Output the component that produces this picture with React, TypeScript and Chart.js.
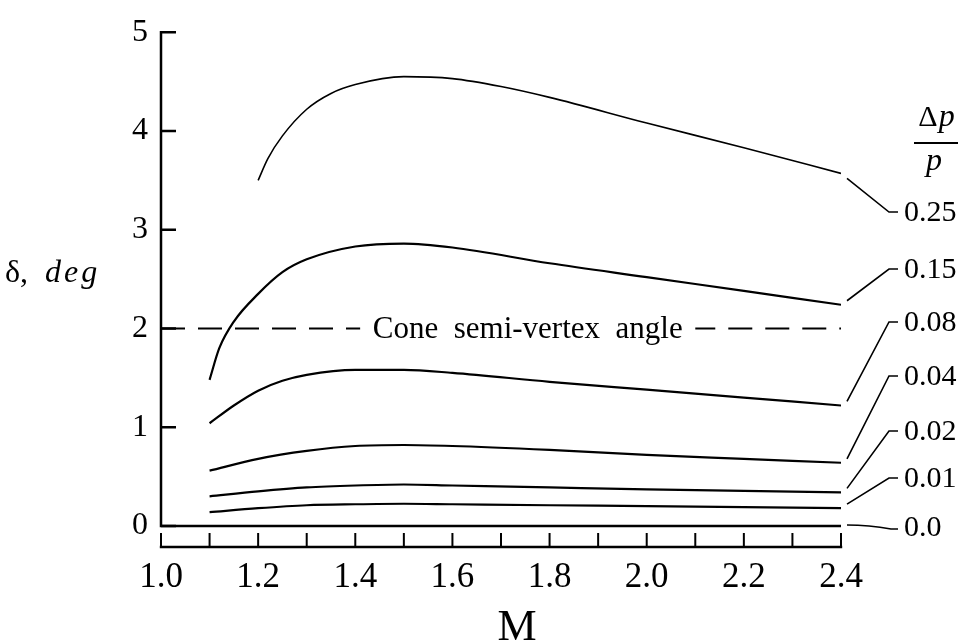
import React, { useEffect, useRef } from "react";
import { Chart, registerables } from "chart.js";
Chart.register(...registerables);

// ---- data ----
const M_025 = [1.2, 1.22, 1.25, 1.3, 1.35, 1.4, 1.5, 1.6, 1.7, 1.8, 2.0, 2.2, 2.4];
const D_025 = [3.5, 3.72, 3.95, 4.22, 4.38, 4.47, 4.55, 4.53, 4.45, 4.34, 4.08, 3.83, 3.57];

const M_015 = [1.1, 1.12, 1.15, 1.2, 1.25, 1.3, 1.4, 1.5, 1.6, 1.8, 2.0, 2.2, 2.4];
const D_015 = [1.48, 1.8, 2.07, 2.35, 2.57, 2.7, 2.83, 2.86, 2.82, 2.66, 2.52, 2.38, 2.24];

const M_008 = [1.1, 1.15, 1.2, 1.25, 1.3, 1.4, 1.5, 1.6, 1.8, 2.0, 2.2, 2.4];
const D_008 = [1.04, 1.22, 1.37, 1.47, 1.53, 1.58, 1.58, 1.55, 1.46, 1.38, 1.3, 1.22];

const M_LOW = [1.1, 1.2, 1.3, 1.4, 1.5, 1.6, 1.8, 2.0, 2.2, 2.4];
const D_004 = [0.56, 0.68, 0.76, 0.81, 0.82, 0.81, 0.77, 0.72, 0.68, 0.64];
const D_002 = [0.3, 0.35, 0.39, 0.41, 0.42, 0.41, 0.39, 0.37, 0.355, 0.34];
const D_001 = [0.14, 0.18, 0.21, 0.22, 0.225, 0.22, 0.21, 0.2, 0.19, 0.18];

const M_000 = [1.0, 2.4];
const D_000 = [0, 0];

const CONE_ANGLE = 2;
const CONE_LEFT_M = [1.0, 1.41];
const CONE_RIGHT_M = [2.1, 2.4];
const CONE_TEXT = "Cone  semi-vertex  angle";

const SERIES_LABELS = ["0.25", "0.15", "0.08", "0.04", "0.02", "0.01", "0.0"];

const X_TICKS = [1.0, 1.2, 1.4, 1.6, 1.8, 2.0, 2.2, 2.4];
const X_MINOR_TICKS = [1.0, 1.1, 1.2, 1.3, 1.4, 1.5, 1.6, 1.7, 1.8, 1.9, 2.0, 2.1, 2.2, 2.3, 2.4];
const Y_TICKS = [0, 1, 2, 3, 4, 5];

// ---- layout (pixels) ----
const LABEL_X = 904;
const HOOK_X = 889;
const LABEL_Y_PX = [212, 269, 322, 376, 431, 478, 527];
const SERIF = "'Liberation Serif', 'Times New Roman', serif";

function pts(ms: number[], ds: number[]) {
  return ms.map((m, i) => ({ x: m, y: ds[i] }));
}

const SERIES = [
  pts(M_025, D_025),
  pts(M_015, D_015),
  pts(M_008, D_008),
  pts(M_LOW, D_004),
  pts(M_LOW, D_002),
  pts(M_LOW, D_001),
  pts(M_000, D_000),
];

const overlay = {
  id: "overlay",
  afterDraw(chart: any) {
    const ctx = chart.ctx;
    const xs = chart.scales.x;
    const ys = chart.scales.y;
    const X = (v: number) => xs.getPixelForValue(v);
    const Y = (v: number) => ys.getPixelForValue(v);
    const xMin = X_MINOR_TICKS[0];
    const xMax = X_MINOR_TICKS[X_MINOR_TICKS.length - 1];
    ctx.save();
    ctx.strokeStyle = "#000";
    ctx.fillStyle = "#000";
    ctx.lineWidth = 2.5;
    // y axis line + ticks
    ctx.beginPath();
    ctx.moveTo(X(xMin), Y(0) + 1.2);
    ctx.lineTo(X(xMin), Y(Y_TICKS[Y_TICKS.length - 1]) - 1.2);
    for (const v of Y_TICKS) {
      ctx.moveTo(X(xMin), Y(v));
      ctx.lineTo(X(xMin) + 15, Y(v));
    }
    ctx.stroke();
    // x axis line (offset below zero) + ticks pointing up
    const axY = chart.chartArea.bottom;
    ctx.beginPath();
    ctx.moveTo(X(xMin) - 1.2, axY);
    ctx.lineTo(X(xMax) + 1.2, axY);
    ctx.stroke();
    ctx.lineWidth = 2;
    ctx.beginPath();
    for (const v of X_MINOR_TICKS) {
      ctx.moveTo(X(v), axY);
      ctx.lineTo(X(v), axY - 14);
    }
    ctx.stroke();

    // cone text
    ctx.font = `31px ${SERIF}`;
    ctx.textAlign = "center";
    ctx.textBaseline = "middle";
    ctx.fillText(CONE_TEXT, (X(CONE_LEFT_M[1]) + X(CONE_RIGHT_M[0])) / 2, Y(CONE_ANGLE) + 1);

    // leaders and series labels
    ctx.lineWidth = 1.6;
    ctx.font = `30px ${SERIF}`;
    ctx.textAlign = "left";
    ctx.textBaseline = "middle";
    SERIES.forEach((s, i) => {
      const last = s[s.length - 1];
      const ex = X(last.x);
      const ey = Y(last.y);
      const ly = LABEL_Y_PX[i];
      ctx.beginPath();
      if (i === SERIES.length - 1) {
        ctx.moveTo(ex + 6, ey - 1);
        ctx.quadraticCurveTo(ex + 28, ey - 1, HOOK_X + 2, ly + 2);
        ctx.lineTo(HOOK_X + 9, ly + 2);
      } else {
        const sy = ly > ey ? ey + 5 : ey - 4;
        ctx.moveTo(ex + 6, sy);
        ctx.lineTo(HOOK_X, ly);
        ctx.lineTo(HOOK_X + 9, ly);
      }
      ctx.stroke();
      ctx.fillText(SERIES_LABELS[i], LABEL_X, ly + 1);
    });

    // Δp / p
    ctx.textBaseline = "alphabetic";
    const cx = 936;
    ctx.font = `30px ${SERIF}`;
    const wD = ctx.measureText("\u0394").width;
    ctx.font = `italic 32px ${SERIF}`;
    const wP = ctx.measureText("p").width;
    const start = cx - (wD + wP) / 2;
    ctx.textAlign = "left";
    ctx.font = `30px ${SERIF}`;
    ctx.fillText("\u0394", start, 126);
    ctx.font = `italic 32px ${SERIF}`;
    ctx.fillText("p", start + wD + 1, 126);
    ctx.lineWidth = 2;
    ctx.beginPath();
    ctx.moveTo(cx - 22, 143);
    ctx.lineTo(cx + 22, 143);
    ctx.stroke();
    ctx.textAlign = "center";
    ctx.fillText("p", cx - 2, 170);

    // y title: δ, deg
    ctx.textAlign = "left";
    ctx.font = `32px ${SERIF}`;
    ctx.fillText("\u03b4,", 5, 282);
    ctx.font = `italic 32px ${SERIF}`;
    let dx = 45;
    for (const ch of "deg") {
      ctx.fillText(ch, dx, 282);
      dx += ctx.measureText(ch).width + 3;
    }

    // x title
    ctx.textAlign = "center";
    ctx.font = `44px ${SERIF}`;
    ctx.fillText("M", 517, 640);
    ctx.restore();
  },
};

export default function App() {
  const ref = useRef<HTMLCanvasElement | null>(null);
  useEffect(() => {
    if (!ref.current) return;
    const lineDs = (data: any[], width: number) => ({
      data,
      borderColor: "#000",
      borderWidth: width,
      pointRadius: 0,
      fill: false,
      cubicInterpolationMode: "monotone" as const,
    });
    const datasets: any[] = SERIES.map((s, i) =>
      lineDs(s, i === 0 ? 1.6 : i === SERIES.length - 1 ? 2.5 : 2.2)
    );
    datasets.push({
      ...lineDs(CONE_LEFT_M.map((m) => ({ x: m, y: CONE_ANGLE })), 2),
      borderDash: [24, 13],
    });
    datasets.push({
      ...lineDs(CONE_RIGHT_M.map((m) => ({ x: m, y: CONE_ANGLE })), 2),
      borderDash: [24, 13],
      borderDashOffset: 4,
    });
    const chart = new Chart(ref.current, {
      type: "line",
      data: { datasets },
      options: {
        animation: false,
        responsive: false,
        devicePixelRatio: 1,
        layout: { padding: { left: 0, top: 32, right: 122, bottom: 0 } },
        plugins: { legend: { display: false }, tooltip: { enabled: false } },
        scales: {
          x: {
            type: "linear",
            min: 1.0,
            max: 2.4,
            afterBuildTicks: (s: any) => {
              s.ticks = X_TICKS.map((v) => ({ value: v }));
            },
            afterFit: (s: any) => {
              s.height = 95;
            },
            border: { display: false },
            grid: { display: false, drawTicks: false },
            ticks: {
              autoSkip: false,
              maxRotation: 0,
              padding: 10,
              color: "#000",
              font: { family: SERIF, size: 35 },
              callback: (v: any) => Number(v).toFixed(1),
            },
          },
          y: {
            type: "linear",
            min: -0.213,
            max: 5,
            afterBuildTicks: (s: any) => {
              s.ticks = Y_TICKS.map((v) => ({ value: v }));
            },
            afterFit: (s: any) => {
              s.width = 161;
            },
            border: { display: false },
            grid: { display: false, drawTicks: false },
            ticks: {
              padding: 13,
              color: "#000",
              font: { family: SERIF, size: 32 },
              callback: (v: any) => String(v),
            },
          },
        },
      },
      plugins: [overlay],
    });
    return () => chart.destroy();
  }, []);
  return (
    <div style={{ position: "absolute", left: 0, top: 0, width: 963, height: 642, background: "#fff" }}>
      <canvas ref={ref} width={963} height={642} style={{ width: 963, height: 642, display: "block" }} />
    </div>
  );
}
